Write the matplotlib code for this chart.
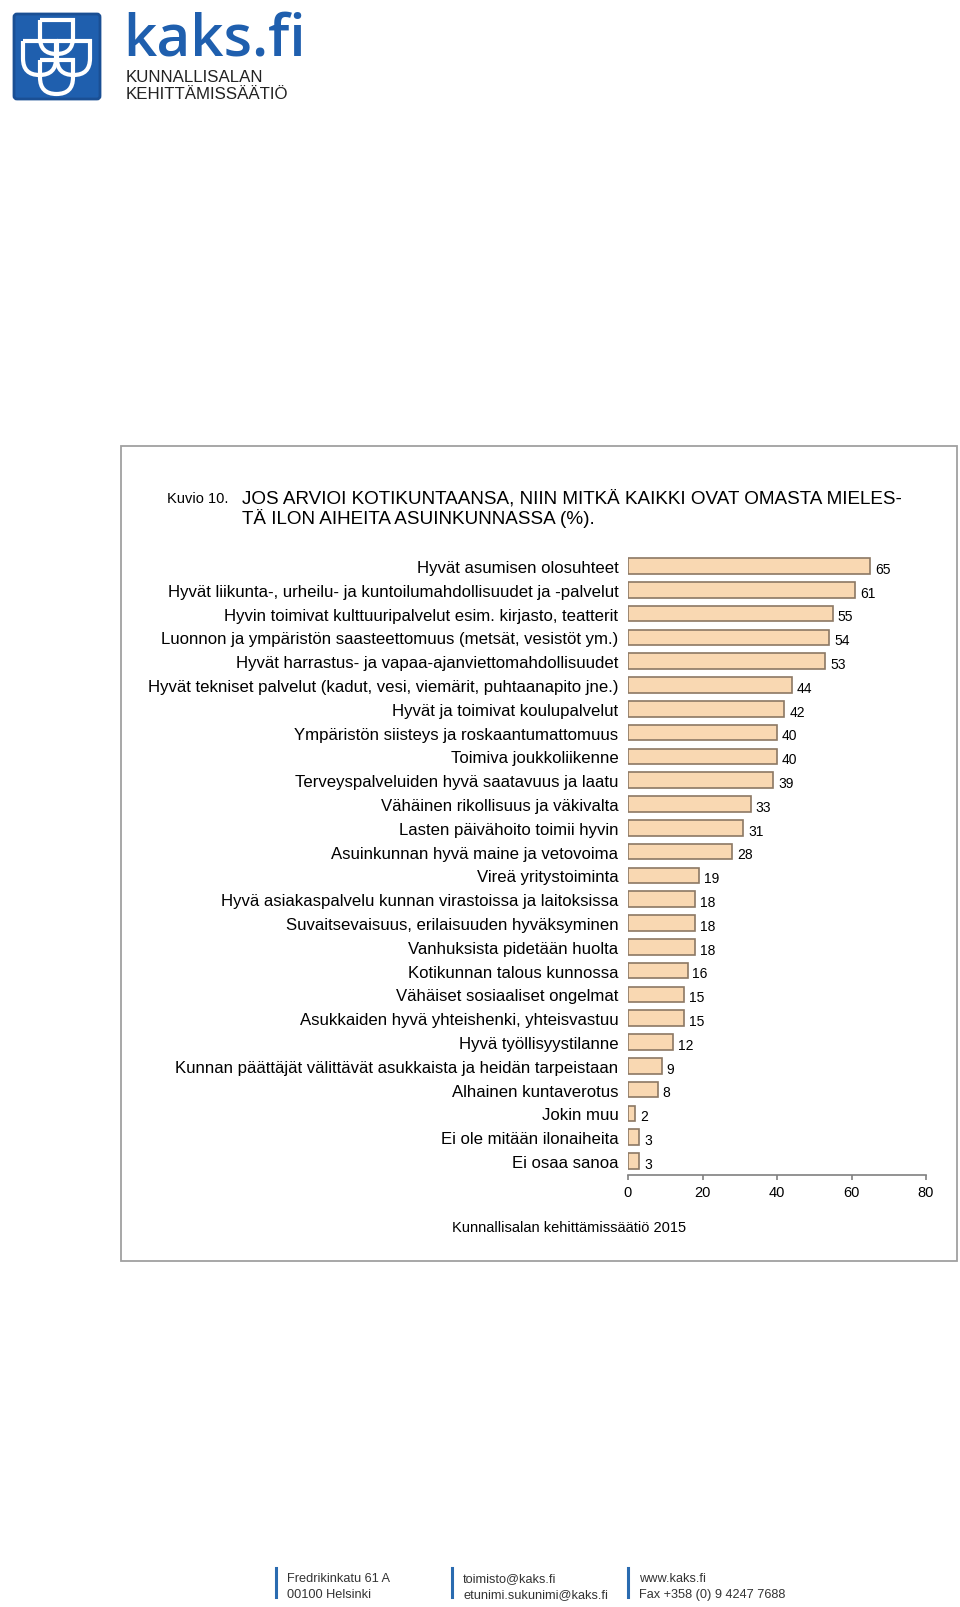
import matplotlib.pyplot as plt
from matplotlib.patches import Rectangle, FancyBboxPatch, PathPatch
from matplotlib.path import Path

# Chart data
labels = [
    'Hyvät asumisen olosuhteet',
    'Hyvät liikunta-, urheilu- ja kuntoilumahdollisuudet ja -palvelut',
    'Hyvin toimivat kulttuuripalvelut esim. kirjasto, teatterit',
    'Luonnon ja ympäristön saasteettomuus (metsät, vesistöt ym.)',
    'Hyvät harrastus- ja vapaa-ajanviettomahdollisuudet',
    'Hyvät tekniset palvelut (kadut, vesi, viemärit, puhtaanapito jne.)',
    'Hyvät ja toimivat koulupalvelut',
    'Ympäristön siisteys ja roskaantumattomuus',
    'Toimiva joukkoliikenne',
    'Terveyspalveluiden hyvä saatavuus ja laatu',
    'Vähäinen rikollisuus ja väkivalta',
    'Lasten päivähoito toimii hyvin',
    'Asuinkunnan hyvä maine ja vetovoima',
    'Vireä yritystoiminta',
    'Hyvä asiakaspalvelu kunnan virastoissa ja laitoksissa',
    'Suvaitsevaisuus, erilaisuuden hyväksyminen',
    'Vanhuksista pidetään huolta',
    'Kotikunnan talous kunnossa',
    'Vähäiset sosiaaliset ongelmat',
    'Asukkaiden hyvä yhteishenki, yhteisvastuu',
    'Hyvä työllisyystilanne',
    'Kunnan päättäjät välittävät asukkaista ja heidän tarpeistaan',
    'Alhainen kuntaverotus',
    'Jokin muu',
    'Ei ole mitään ilonaiheita',
    'Ei osaa sanoa',
]
values = [65, 61, 55, 54, 53, 44, 42, 40, 40, 39, 33, 31, 28,
          19, 18, 18, 18, 16, 15, 15, 12, 9, 8, 2, 3, 3]
x_ticks = [0, 20, 40, 60, 80]

title_num = 'Kuvio 10.'
title_lines = ['JOS ARVIOI KOTIKUNTAANSA, NIIN MITKÄ KAIKKI OVAT OMASTA MIELES-',
               'TÄ ILON AIHEITA ASUINKUNNASSA (%).']
source = 'Kunnallisalan kehittämissäätiö 2015'
footer = [('Fredrikinkatu 61 A', '00100 Helsinki'),
          ('toimisto@kaks.fi', 'etunimi.sukunimi@kaks.fi'),
          ('www.kaks.fi', 'Fax +358 (0) 9 4247 7688')]

W, H = 960, 1608
fig = plt.figure(figsize=(W / 100, H / 100), dpi=100)
sans = ['Liberation Sans', 'DejaVu Sans']
blue = '#1f5fae'

# background axes in pixel coordinates for page decorations
bg = fig.add_axes([0, 0, 1, 1])
bg.set_xlim(0, W)
bg.set_ylim(H, 0)
bg.axis('off')

# logo box
bg.add_patch(FancyBboxPatch((14, 15), 86, 85, boxstyle='round,pad=0,rounding_size=3',
                            fc=blue, ec='#1a4f94', lw=2))


def shield(x0, y0, w, h):
    # square top, rounded bottom
    r = w / 2
    verts = [(x0, y0), (x0 + w, y0), (x0 + w, y0 + h - r),
             (x0 + w, y0 + h), (x0 + r, y0 + h),
             (x0, y0 + h), (x0, y0 + h - r), (x0, y0)]
    codes = [Path.MOVETO, Path.LINETO, Path.LINETO,
             Path.CURVE3, Path.CURVE3, Path.CURVE3, Path.CURVE3, Path.LINETO]
    return PathPatch(Path(verts, codes), fc='none', ec='white', lw=3)


for (sx, sy) in [(40, 21), (23, 42), (57, 42), (40, 61)]:
    bg.add_patch(shield(sx, sy, 33, 34))

bg.text(123, 55, 'kaks.fi', color=blue, fontsize=42, fontweight='semibold',
        family=['Open Sans', 'DejaVu Sans'], va='baseline', ha='left')
bg.text(126, 82, 'KUNNALLISALAN', color='#222222', fontsize=12.2,
        family=sans, va='baseline', ha='left')
bg.text(126, 99, 'KEHITTÄMISSÄÄTIÖ', color='#222222', fontsize=12.2,
        family=sans, va='baseline', ha='left')

# chart frame
bg.add_patch(Rectangle((121, 447), 836, 815, fc='none', ec='#a0a0a0', lw=1.3))

bg.text(167, 503, title_num, fontsize=10.5, family=sans, va='baseline', ha='left')
bg.text(242, 503, title_lines[0], fontsize=13.6, family=sans, va='baseline', ha='left')
bg.text(242, 524, title_lines[1], fontsize=13.6, family=sans, va='baseline', ha='left')
bg.text(569, 1228, source, fontsize=10.5, family=sans, va='center', ha='center')

# footer
for i, (l1, l2) in enumerate(footer):
    fx = [276, 452, 628][i]
    bg.plot([fx, fx], [1569, 1598], color='#2a6bb0', lw=2.2)
    bg.text(fx + 11, 1582, l1, fontsize=9.2, family=sans, color='#333333', va='baseline')
    bg.text(fx + 11, 1598, l2, fontsize=9.2, family=sans, color='#333333', va='baseline')

# bar chart
ax = fig.add_axes([628 / W, (H - 1176) / H, 298 / W, 623.3 / H])
n = len(values)
pos = list(range(n))
ax.barh(pos, values, height=0.66, color='#f9d8b2', edgecolor='#8c7864', linewidth=1.2)
ax.set_ylim(n - 1 + 0.59, -0.6)
ax.set_xlim(0, 80)
ax.set_yticks(pos)
ax.set_yticklabels(labels, fontsize=12.1, family=sans)
ax.tick_params(axis='y', length=0, pad=7)
ax.set_xticks(x_ticks)
ax.set_xticklabels([str(t) for t in x_ticks], fontsize=10.5, family=sans)
ax.tick_params(axis='x', direction='out', length=3.5, width=1.2, color='#808080', pad=4)
for s in ['left', 'right', 'top']:
    ax.spines[s].set_visible(False)
ax.spines['bottom'].set_color('#808080')
ax.spines['bottom'].set_linewidth(1.2)
ax.patch.set_alpha(0)
for p, v in zip(pos, values):
    ax.annotate(str(v), (v, p), xytext=(3.5, -2), textcoords='offset points',
                fontsize=10, family=sans, va='center', ha='left')

fig.savefig('out.png', dpi=100)
